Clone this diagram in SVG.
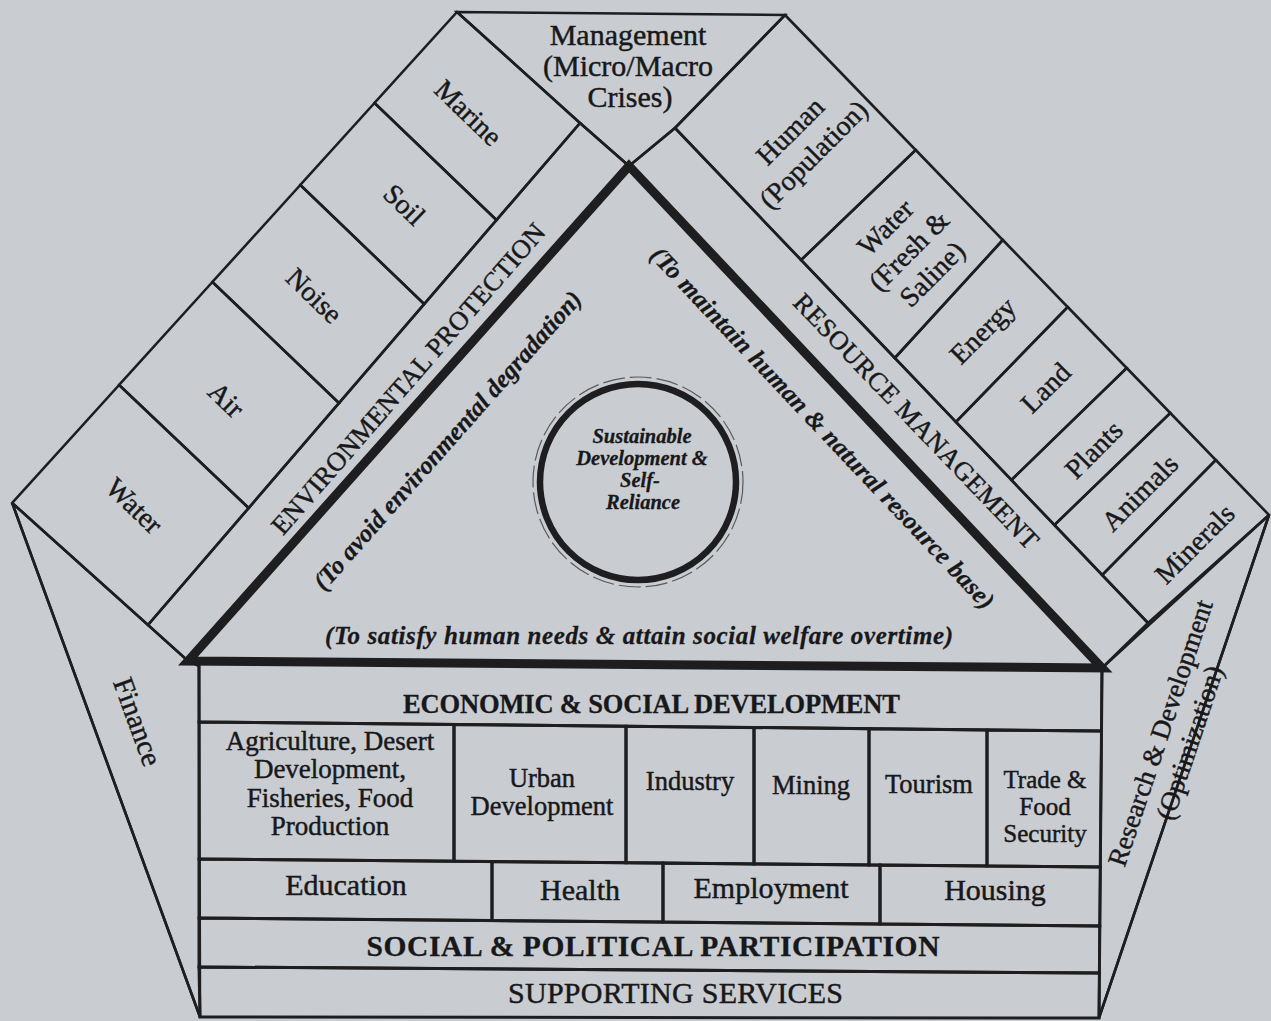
<svg xmlns="http://www.w3.org/2000/svg" width="1271" height="1021" viewBox="0 0 1271 1021">
  <style>
    .c{fill:none;stroke:#1e1e20;stroke-width:2.6;stroke-linejoin:miter}
    .w{fill:none;stroke:#1e1e20;stroke-width:3;stroke-linejoin:miter}
    .core{fill:none;stroke:#1e1e20;stroke-width:9;stroke-linejoin:miter}
    text{font-family:"Liberation Serif","Times New Roman",serif;fill:#18181a;stroke:#18181a;stroke-width:0.45px}
    .lb{font-size:28px}
    .mg{font-size:30px}
    .hd{font-size:26.5px}
    .bi{font-size:25px;font-weight:bold;font-style:italic;stroke-width:0.3px}
    .ci{font-size:20.5px;font-weight:bold;font-style:italic;stroke-width:0.3px}
    .sec{font-size:26.5px}
    .soc{font-size:30px}
  </style>
  <rect width="1271" height="1021" fill="#c9cdd1"/>

  <!-- outer frame lines -->
  <g id="frame">
    <line class="c" x1="12.2" y1="503" x2="200" y2="1017"/>
    <line class="c" x1="1269" y1="515" x2="1099" y2="1018"/>
  </g>

  <!-- top: management -->
  <g id="management">
    <polygon class="c" points="457,12 785,15 675,128 629,166 580,123"/>
    <text class="mg" text-anchor="middle"><tspan x="628" y="45">Management</tspan><tspan x="628" y="76">(Micro/Macro</tspan><tspan x="630" y="107">Crises)</tspan></text>
  </g>

  <!-- left band: environmental sectors -->
  <g id="env-marine">
    <polygon class="c" points="457,12 580,123 496.5,220 374.5,103"/>
    <text class="lb" transform="translate(468 113) rotate(44)" text-anchor="middle" y="9">Marine</text>
  </g>
  <g id="env-soil">
    <polygon class="c" points="374.5,103 496.5,220 424.2,304 300.3,185"/>
    <text class="lb" transform="translate(404 205) rotate(44)" text-anchor="middle" y="9">Soil</text>
  </g>
  <g id="env-noise">
    <polygon class="c" points="300.3,185 424.2,304 339,403 212.4,282"/>
    <text class="lb" transform="translate(314 296) rotate(44)" text-anchor="middle" y="9">Noise</text>
  </g>
  <g id="env-air">
    <polygon class="c" points="212.4,282 339,403 248.7,508 119.1,385"/>
    <text class="lb" transform="translate(226 400) rotate(44)" text-anchor="middle" y="9">Air</text>
  </g>
  <g id="env-water">
    <polygon class="c" points="119.1,385 248.7,508 148,625 12.2,503"/>
    <text class="lb" transform="translate(134 506) rotate(44)" text-anchor="middle" y="9">Water</text>
  </g>

  <!-- right band: resources -->
  <g id="res-human">
    <polygon class="c" points="785,15 915.7,150 801.1,260 675,128"/>
    <text class="lb" transform="translate(802 143) rotate(-45)" text-anchor="middle"><tspan x="0" y="-7.5">Human</tspan><tspan x="0" y="25.5">(Population)</tspan></text>
  </g>
  <g id="res-water">
    <polygon class="c" points="915.7,150 1002.8,240 894.8,358 801.1,260"/>
    <text class="lb" transform="translate(909 251) rotate(-45)" text-anchor="middle"><tspan x="0" y="-24">Water</tspan><tspan x="0" y="9">(Fresh &amp;</tspan><tspan x="0" y="42">Saline)</tspan></text>
  </g>
  <g id="res-energy">
    <polygon class="c" points="1002.8,240 1067.7,307 955.9,422 894.8,358"/>
    <text class="lb" transform="translate(983 331) rotate(-45)" text-anchor="middle" y="9">Energy</text>
  </g>
  <g id="res-land">
    <polygon class="c" points="1067.7,307 1126.7,368 1011.4,480 955.9,422"/>
    <text class="lb" transform="translate(1046 388) rotate(-45)" text-anchor="middle" y="9">Land</text>
  </g>
  <g id="res-plants">
    <polygon class="c" points="1126.7,368 1170.3,413 1054.4,525 1011.4,480"/>
    <text class="lb" transform="translate(1094 450) rotate(-45)" text-anchor="middle" y="9">Plants</text>
  </g>
  <g id="res-animals">
    <polygon class="c" points="1170.3,413 1215.8,460 1102.2,575 1054.4,525"/>
    <text class="lb" transform="translate(1140 493) rotate(-45)" text-anchor="middle" y="9">Animals</text>
  </g>
  <g id="res-minerals">
    <polygon class="c" points="1215.8,460 1269,515 1148,623 1102.2,575"/>
    <text class="lb" transform="translate(1195 544) rotate(-45)" text-anchor="middle" y="9">Minerals</text>
  </g>

  <!-- headings along the two strips -->
  <g id="environmental-protection">
    <polygon class="c" points="580,123 629,166 188,661 148,625"/>
    <text class="hd" transform="translate(408.5 379) rotate(-49)" text-anchor="middle" y="8.5" textLength="402">ENVIRONMENTAL PROTECTION</text>
  </g>
  <g id="resource-management">
    <polygon class="c" points="675,128 1148,623 1102,668 629,166"/>
    <text class="hd" transform="translate(916 421.5) rotate(46.3)" text-anchor="middle" y="8.5" textLength="342">RESOURCE MANAGEMENT</text>
  </g>

  <!-- side panels -->
  <g id="finance">
    <polygon class="c" points="12.2,503 188,661 199,666 200,1017"/>
    <text class="mg" style="font-size:29px" transform="translate(137 722) rotate(70)" text-anchor="middle" y="9">Finance</text>
  </g>
  <g id="research">
    <polygon class="c" points="1269,515 1102,668 1099,1018"/>
    <text style="font-size:27px" transform="translate(1175.5 738) rotate(-71.5)" text-anchor="middle"><tspan x="0" y="-7">Research &amp; Development</tspan><tspan x="0" y="24">(Optimization)</tspan></text>
  </g>

  <!-- central triangle with objectives -->
  <g id="core">
    <polygon class="core" points="629,166 1102,668 188,661"/>
    <text class="bi" transform="translate(447.5 440.5) rotate(-48.4)" text-anchor="middle" y="8" textLength="390">(To avoid environmental degradation)</text>
    <text class="bi" transform="translate(822.5 428) rotate(46.6)" text-anchor="middle" y="8" textLength="488">(To maintain human &amp; natural resource base)</text>
    <text class="bi" x="639" y="644" text-anchor="middle" textLength="628">(To satisfy human needs &amp; attain social welfare overtime)</text>
  </g>

  <g id="goal">
    <circle cx="638" cy="482" r="105" fill="none" stroke="#2a2a2c" stroke-width="1.2" stroke-dasharray="22 5" opacity="0.7"/>
    <circle cx="638" cy="482" r="98" fill="none" stroke="#1e1e20" stroke-width="6.5"/>
    <text class="ci" text-anchor="middle"><tspan x="642" y="443">Sustainable</tspan><tspan x="642" y="465">Development &amp;</tspan><tspan x="640" y="487">Self-</tspan><tspan x="643" y="509">Reliance</tspan></text>
  </g>

  <!-- building: development sectors -->
  <g id="economic-social">
    <polygon class="w" points="199,661 1102,668 1101.5,731 199,722"/>
    <text x="651.5" y="713" text-anchor="middle" style="font-size:26.5px;font-weight:bold;stroke-width:0.3px" textLength="497">ECONOMIC &amp; SOCIAL DEVELOPMENT</text>
  </g>
  <g id="agriculture">
    <polygon class="w" points="199,722 454,724.5 454,861.3 199,859"/>
    <text class="sec" style="font-size:27px" text-anchor="middle"><tspan x="330" y="750">Agriculture, Desert</tspan><tspan x="330" y="778">Development,</tspan><tspan x="330" y="807">Fisheries, Food</tspan><tspan x="330" y="835">Production</tspan></text>
  </g>
  <g id="urban">
    <polygon class="w" points="454,724.5 626,726.3 626,862.8 454,861.3"/>
    <text class="sec" text-anchor="middle"><tspan x="542" y="787">Urban</tspan><tspan x="542" y="815">Development</tspan></text>
  </g>
  <g id="industry">
    <polygon class="w" points="626,726.3 754,727.5 754,863.9 626,862.8"/>
    <text class="sec" x="690" y="790" text-anchor="middle">Industry</text>
  </g>
  <g id="mining">
    <polygon class="w" points="754,727.5 869,728.7 869,864.9 754,863.9"/>
    <text class="sec" x="811" y="794" text-anchor="middle">Mining</text>
  </g>
  <g id="tourism">
    <polygon class="w" points="869,728.7 987,729.9 987,866 869,864.9"/>
    <text class="sec" x="929" y="793" text-anchor="middle">Tourism</text>
  </g>
  <g id="trade">
    <polygon class="w" points="987,729.9 1101.5,731 1100.3,867 987,866"/>
    <text class="sec" style="font-size:25px" text-anchor="middle"><tspan x="1045" y="788">Trade &amp;</tspan><tspan x="1045" y="815">Food</tspan><tspan x="1045" y="842">Security</tspan></text>
  </g>
  <g id="education">
    <polygon class="w" points="199,859 492,861.6 492,920.6 199,918"/>
    <text class="soc" x="346" y="895" text-anchor="middle">Education</text>
  </g>
  <g id="health">
    <polygon class="w" points="492,861.6 663,863.1 663,922.1 492,920.6"/>
    <text class="soc" x="580" y="900" text-anchor="middle">Health</text>
  </g>
  <g id="employment">
    <polygon class="w" points="663,863.1 880,865 880,924 663,922.1"/>
    <text class="soc" x="771" y="898" text-anchor="middle">Employment</text>
  </g>
  <g id="housing">
    <polygon class="w" points="880,865 1100.3,867 1099.8,926 880,924"/>
    <text class="soc" x="995" y="900" text-anchor="middle">Housing</text>
  </g>
  <g id="participation">
    <polygon class="w" points="199,918 1099.8,926 1099.4,973 199,967"/>
    <text x="653" y="956" text-anchor="middle" style="font-size:29.5px;font-weight:bold;stroke-width:0.3px" textLength="573">SOCIAL &amp; POLITICAL PARTICIPATION</text>
  </g>
  <g id="supporting">
    <polygon class="w" points="199,967 1099.4,973 1099,1018 200,1017"/>
    <text x="675.5" y="1003" text-anchor="middle" style="font-size:30px" textLength="335">SUPPORTING SERVICES</text>
  </g>
</svg>
